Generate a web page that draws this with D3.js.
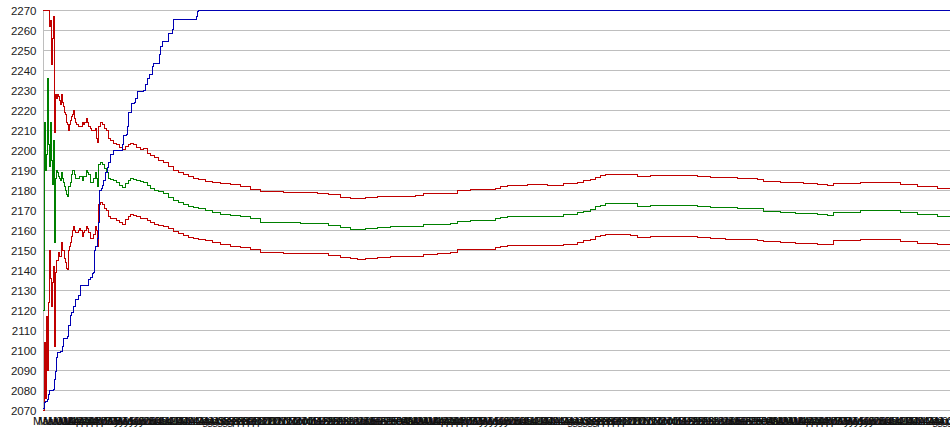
<!DOCTYPE html>
<html><head><meta charset="utf-8">
<script src="https://cdn.jsdelivr.net/npm/d3@7"></script>
<style>html,body{margin:0;padding:0;background:#fff;overflow:hidden}svg{display:block}</style>
</head><body><svg id="c" width="950" height="435"></svg>
<script>
// sample positions (category index along x) shared by the three band series
const days = [0,1,2,3,4,5,6,7,8,9,10,11,12,13,14,15,16,17,18,19,20,21,22,23,24,25,26,27,28,29,30,31,32,33,34,35,36,37,39,40,41,43,44,45,47,48,50,52,53,54,55,57,59,61,63,65,67,70,73,76,79,82,85,87,90,93,97,100,104,107,111,115,120,125,130,135,140,145,150,155,162,169,177,187,197,207,217,240,257,274,285,297,307,314,322,334,347,360,372,380,394,407,414,427,440,452,457,464,484,504,520,534,540,547,552,557,562,575,587,594,607,622,640,654,667,682,694,714,720,737,752,760,774,784,790,817,837,854,857,874,894,907];
const upper = [2270,2270,2270,2270,2270,2270,2262,2265,2243,2256,2267,2209,2228,2226,2228,2227,2225,2223,2228,2224,2222,2219,2218,2214,2213,2210,2213,2215,2217,2218,2220,2216,2214,2213,2213,2212,2212,2212,2214,2213,2214,2216,2214,2212,2211,2210,2210,2211,2206,2204,2212,2214,2213,2211,2210,2206,2205,2203.5,2203,2201.5,2200.5,2202,2203,2203.5,2203,2201.5,2200.5,2201,2198.5,2197.5,2196.5,2195,2194,2192,2190,2189,2188,2187,2186,2185.5,2184.5,2184,2183.5,2183,2182,2180.6,2179.5,2179,2178.8,2178.6,2177.8,2176.5,2175.9,2175.7,2176.3,2176.7,2177,2177,2177.2,2178.3,2178.3,2178.4,2180,2180.2,2180.3,2181,2181.9,2182.3,2182.8,2182.3,2183.3,2183.9,2184.9,2185.2,2186.6,2187.4,2188.1,2187.9,2188.1,2186.9,2187.2,2187.3,2187.4,2186.9,2186.4,2186.2,2186.1,2185.4,2184.6,2183.9,2183.7,2183.6,2183.1,2182.5,2183.3,2184.1,2184.1,2183.9,2183.1,2181.9,2181.1,2181.1];
const mid = [2120,2214,2190,2198,2236,2203,2192,2214,2195,2183,2205,2154,2186,2190,2189,2187,2186,2185,2189,2186,2184,2182,2180,2178,2177,2182,2182,2184,2188,2190,2190,2188,2186,2186,2186,2186,2187,2187,2185,2187,2187,2190,2189,2188,2184,2184,2186,2189,2186,2182,2193,2194,2193,2191,2189,2186,2185.5,2185,2184,2182.5,2181.5,2183.5,2185,2186,2185.5,2185,2184.5,2184,2182.5,2181,2180,2179.5,2178.5,2176.5,2175,2174,2173,2172,2171.5,2171,2170,2169,2168,2167.5,2167,2165.8,2164.1,2163.8,2163.6,2163.5,2162.5,2161.3,2160.6,2160.2,2160.8,2161.5,2161.8,2161.8,2162,2162.8,2163,2163.5,2164.6,2164.8,2165.1,2165.8,2166.3,2166.7,2167.1,2166.8,2167.8,2168.7,2169.6,2170.4,2171.7,2172.6,2173.4,2173.2,2173.4,2172,2172.2,2172.3,2172.4,2172,2171.6,2171.2,2171,2170.7,2169.6,2168.9,2168.5,2168.3,2167.9,2167.6,2169.1,2170.1,2170.1,2170.1,2168.7,2167.9,2166.8,2166.8];
const lower = [2070,2104,2076,2117,2090,2124,2150,2136,2122,2134,2142,2102,2139,2145,2145,2149,2147,2147,2154,2150,2150,2146,2144,2141,2140.5,2150,2152,2154,2157,2160,2162,2160,2159,2159,2159,2160,2161,2160,2157,2159,2160,2162,2161,2159,2156,2156,2158,2162,2160,2152,2173,2174,2173,2171,2170,2167,2166,2166,2165,2164,2163,2165.5,2167,2168,2167.5,2167,2166,2166,2165,2164,2163,2162.5,2162,2161,2159.5,2158.5,2157.5,2156.5,2156,2155.5,2155,2154,2153,2152,2151.5,2150.6,2148.9,2148.6,2148.4,2148.3,2147.3,2146.5,2145.7,2145.3,2146,2146.6,2146.8,2147,2147.1,2148.1,2148.3,2148.9,2150.3,2150.4,2150.6,2151.2,2151.9,2152.2,2152.6,2152.2,2152.9,2153.9,2154.7,2155.5,2156.9,2157.4,2157.9,2157.8,2157.5,2156.4,2156.7,2156.8,2156.9,2156.5,2156,2155.6,2155.4,2154.9,2154.4,2153.9,2153.4,2153.2,2152.9,2152.7,2154.7,2155.5,2155.5,2155.5,2154.2,2153.6,2153.1,2153.1];
// running best (blue)
const bestDays = [0,1,2,4,5,6,10,11,12,13,14,17,19,20,24,25,27,28,30,32,35,37,44,45,47,49,50,51,52,54,55,56,58,59,60,62,64,65,67,70,77,79,80,83,84,85,88,91,92,94,100,102,104,106,109,110,115,116,117,119,124,125,129,130,152,153,154,155,907];
const best = [2071,2074,2074.7,2075.5,2078,2080.2,2080.5,2085.5,2089.7,2096.3,2099.2,2099.7,2102.2,2106.2,2106.8,2112.2,2117.2,2119,2121.8,2125.5,2127.2,2132.2,2132.2,2135.2,2136.5,2138.5,2138.8,2149.7,2152,2155.8,2163.8,2179.8,2181,2182.3,2185,2188.9,2191.4,2194,2198,2199.6,2199.6,2203,2207.1,2207.9,2212,2218.7,2223.3,2223.6,2226,2229.4,2229.8,2233,2235.6,2238,2241.9,2243.5,2243.5,2248,2251.8,2254.3,2254.3,2258.4,2260.1,2265.4,2265.4,2267,2269.2,2270,2270];
const yTicks = [2070,2080,2090,2100,2110,2120,2130,2140,2150,2160,2170,2180,2190,2200,2210,2220,2230,2240,2250,2260,2270];
const xLabels = [
"Mar 01","Mar 06","Mar 11","Mar 16","Mar 21","Mar 26","Mar 31","Apr 05","Apr 10","Apr 15","Apr 20","Apr 25","Apr 30","May 05","May 10","May 15","May 20","May 25","May 30","Jun 04","Jun 09","Jun 14","Jun 19","Jun 24","Jun 29","Jul 04","Jul 09","Jul 14","Jul 19","Jul 24","Jul 29","Aug 03","Aug 08","Aug 13","Aug 18","Aug 23","Aug 28","Sep 02","Sep 07","Sep 12","Sep 17","Sep 22","Sep 27","Oct 02","Oct 07","Oct 12","Oct 17","Oct 22","Oct 27","Nov 01","Nov 06","Nov 11","Nov 16","Nov 21","Nov 26","Dec 01","Dec 06","Dec 11","Dec 16","Dec 21","Dec 26","Dec 31","Jan 05","Jan 10","Jan 15","Jan 20","Jan 25","Jan 30","Feb 04","Feb 09","Feb 14","Feb 19","Feb 24",
"Mar 01","Mar 06","Mar 11","Mar 16","Mar 21","Mar 26","Mar 31","Apr 05","Apr 10","Apr 15","Apr 20","Apr 25","Apr 30","May 05","May 10","May 15","May 20","May 25","May 30","Jun 04","Jun 09","Jun 14","Jun 19","Jun 24","Jun 29","Jul 04","Jul 09","Jul 14","Jul 19","Jul 24","Jul 29","Aug 03","Aug 08","Aug 13","Aug 18","Aug 23","Aug 28","Sep 02","Sep 07","Sep 12","Sep 17","Sep 22","Sep 27","Oct 02","Oct 07","Oct 12","Oct 17","Oct 22","Oct 27","Nov 01","Nov 06","Nov 11","Nov 16","Nov 21","Nov 26","Dec 01","Dec 06","Dec 11","Dec 16","Dec 21","Dec 26","Dec 31","Jan 05","Jan 10","Jan 15","Jan 20","Jan 25","Jan 30","Feb 04","Feb 09","Feb 14","Feb 19","Feb 24",
"Mar 01","Mar 06","Mar 11","Mar 16","Mar 21","Mar 26","Mar 31","Apr 05","Apr 10","Apr 15","Apr 20","Apr 25","Apr 30","May 05","May 10","May 15","May 20","May 25","May 30","Jun 04","Jun 09","Jun 14","Jun 19","Jun 24","Jun 29","Jul 04","Jul 09","Jul 14","Jul 19","Jul 24","Jul 29","Aug 03","Aug 08","Aug 13","Aug 18","Aug 23"];
const labelEvery = 5;

const svg = d3.select("#c");
const L = 43, R = 950, T = 10, B = 410.5;
const x = d3.scaleLinear().domain([0, 907]).range([L, R]);
const y = d3.scaleLinear().domain([2070, 2270]).range([B, T]);
const snap = v => Math.floor(v) + 0.5;

// grid
svg.append("g").selectAll("line").data(yTicks).join("line")
  .attr("x1", L).attr("x2", R)
  .attr("y1", d => snap(y(d))).attr("y2", d => snap(y(d)))
  .attr("stroke", "#bebebe").attr("stroke-width", 1);
svg.append("line").attr("x1", snap(L)).attr("x2", snap(L)).attr("y1", T).attr("y2", snap(B))
  .attr("stroke", "#bebebe");
// y labels
svg.append("g").selectAll("text").data(yTicks).join("text")
  .attr("x", 36.5).attr("y", d => snap(y(d)))
  .attr("dy", "0.36em").attr("text-anchor", "end")
  .attr("font-family", "Liberation Sans, Arial, sans-serif").attr("font-size", 11.5)
  .attr("fill", "#222").text(d => d);
// x labels (one per category step, heavily overlapping as in the original)
svg.append("g").selectAll("text").data(xLabels).join("text")
  .attr("x", (d, i) => x(i * labelEvery) - 10).attr("y", 425)
  .attr("text-anchor", "start")
  .attr("font-family", "Liberation Sans, Arial, sans-serif").attr("font-size", 11.5)
  .attr("fill", "#111").text(d => d);

svg.append("clipPath").attr("id", "pc").append("rect")
  .attr("x", L).attr("y", T - 1).attr("width", R - L).attr("height", B - T + 2);
const plot = svg.append("g").attr("clip-path", "url(#pc)");

const mk = (xs, ys) => d3.line().curve(d3.curveStepAfter)
  .x((d, i) => x(xs[i])).y((d, i) => y(ys[i]))(ys);

const series = [
  {xs: days, ys: lower, c: "#c00000"},
  {xs: days, ys: upper, c: "#c00000"},
  {xs: days, ys: mid, c: "#008000"},
  {xs: bestDays, ys: best, c: "#0000b4"}
];
plot.selectAll("path").data(series).join("path")
  .attr("d", s => mk(s.xs, s.ys))
  .attr("fill", "none").attr("stroke", s => s.c).attr("stroke-width", 1)
  .attr("shape-rendering", "crispEdges");
</script>
</body></html>
